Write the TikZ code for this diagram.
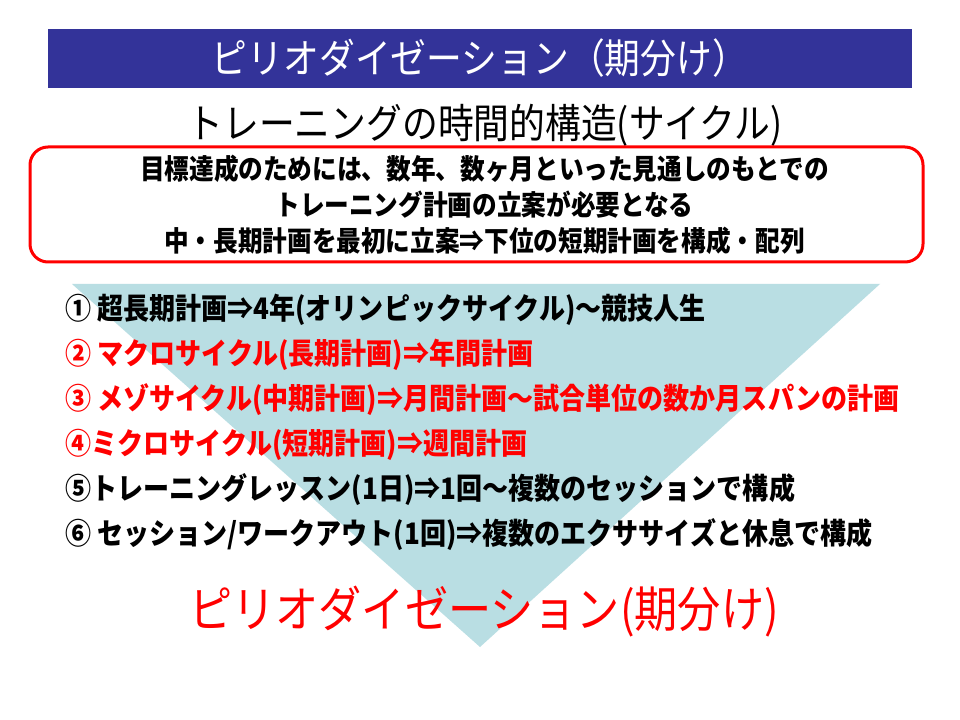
\documentclass[tikz,border=0pt]{standalone}
\usepackage{fontspec}
\setmainfont{Noto Sans CJK JP}
\newfontfamily\jp[FakeStretch=0.88]{Noto Sans CJK JP}
\usepackage{xcolor}
\usetikzlibrary{positioning}
\definecolor{barblue}{HTML}{333399}
\definecolor{wedgeblue}{HTML}{B9DEE3}

\begin{document}
\begin{tikzpicture}[
    x=0.75pt, y=-0.75pt,   % one unit = one pixel of the slide, y running down
    titlebar/.style = {fill=barblue, text=white, inner sep=0pt,
      minimum width=648pt, minimum height=44.25pt, font=\jp\fontsize{30.5}{36}\selectfont},
    frame/.style = {draw=red, line width=2.25pt, rounded corners=13.5pt,
      minimum width=669.75pt, minimum height=86.25pt},
    aimtext/.style = {align=center, inner sep=0pt, font=\jp\bfseries\fontsize{21}{27}\selectfont},
    item/.style = {anchor=west, inner sep=0pt, text height=17.5pt, text depth=4.5pt,
      font=\jp\bfseries\fontsize{22.2}{22}\selectfont},
    hot/.style = {item, text=red}
  ]
    \fill[white] (0,0) rectangle (960,720);
    \useasboundingbox (0,0) rectangle (960,720);

    % the wedge behind the list
    \fill[wedgeblue] (72,284) -- (880,284) -- (480,647) -- cycle;

    \node[titlebar] (title) at (480,58.5) {ピリオダイゼーション（期分け）};
    \node[font=\jp\fontsize{30.5}{34}\selectfont] (sub) at (485,125) {トレーニングの時間的構造(サイクル)};
    \node[frame] (aim) at (476.5,204.5) {};
    \node[aimtext, xshift=6pt] (aimlines) at (aim) {目標達成のためには、数年、数ヶ月といった見通しのもとでの\\
      トレーニング計画の立案が必要となる\\
      中・長期計画を最初に立案⇒下位の短期計画を構成・配列};

    \node[item] (c1) at (65,311) {① 超長期計画⇒4年(オリンピックサイクル)～競技人生};
    \node[hot, below=11.3pt of c1.south west, anchor=north west] (c2) {② マクロサイクル(長期計画)⇒年間計画};
    \node[hot, below=11.3pt of c2.south west, anchor=north west] (c3) {③ メゾサイクル(中期計画)⇒月間計画～試合単位の数か月スパンの計画};
    \node[hot, below=11.3pt of c3.south west, anchor=north west] (c4) {④ミクロサイクル(短期計画)⇒週間計画};
    \node[item, below=11.3pt of c4.south west, anchor=north west] (c5) {⑤トレーニングレッスン(1日)⇒1回～複数のセッションで構成};
    \node[item, below=11.3pt of c5.south west, anchor=north west] (c6) {⑥ セッション/ワークアウト(1回)⇒複数のエクササイズと休息で構成};

    \node[text=red, font=\jp\fontsize{36.8}{42}\selectfont] (period) at (484,612) {ピリオダイゼーション(期分け)};
\end{tikzpicture}
\end{document}
